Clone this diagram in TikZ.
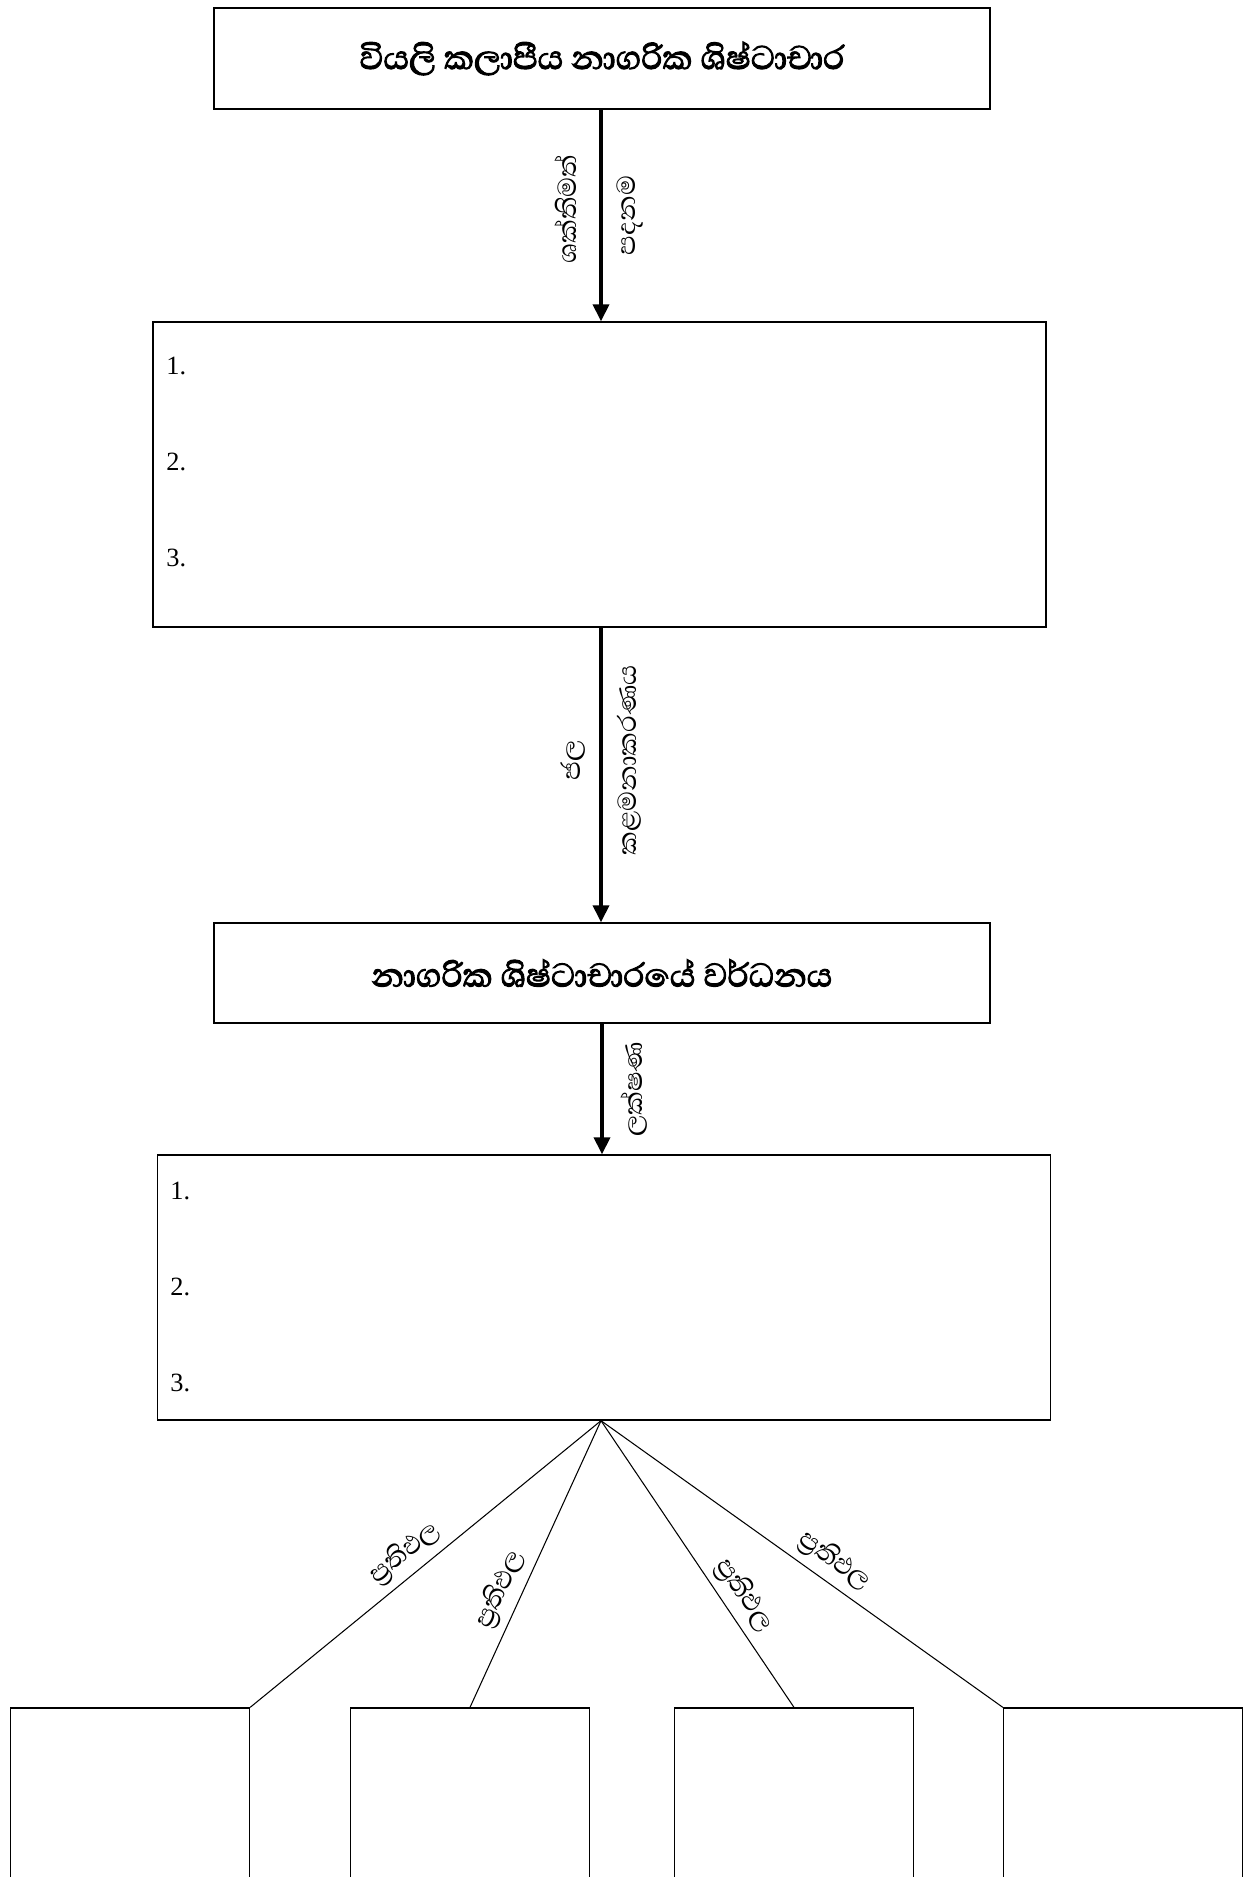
\documentclass[tikz,border=0pt]{standalone}
\usepackage{fontspec}
\setmainfont{Liberation Serif}
\newfontfamily\sinhala[Script=Sinhala, AutoFakeBold=2.5]{Abhaya Libre}
\usetikzlibrary{arrows.meta,positioning}

\begin{document}
\begin{tikzpicture}[x=0.02cm, y=-0.02cm,
    box/.style={draw, line width=0.8pt, rectangle, inner sep=0pt},
    titlebox/.style={box, minimum width=15.52cm, minimum height=2.02cm,
      font=\sinhala\bfseries\fontsize{24}{28}\selectfont},
    listbox/.style={box, minimum width=17.86cm},
    resbox/.style={box, minimum width=4.78cm, minimum height=8cm},
    flow/.style={line width=2pt, -{Triangle[length=3.4mm,width=3.2mm]}},
    branch/.style={line width=0.6pt},
    lbl/.style={font=\sinhala\fontsize{19}{22}\selectfont, inner sep=4pt},
    num/.style={anchor=west, font=\fontsize{15}{17}\selectfont, inner sep=0pt}]
  \useasboundingbox (0,0) rectangle (1246,1877);
  \clip (0,0) rectangle (1246,1877);

  \node[titlebox] (civ) at (602,58.5) {වියලි කලාපීය නාගරික ශිෂ්ටාචාර};
  \node[listbox, minimum height=6.1cm] (list1) at (599.5,474.5) {};
  \node[titlebox, minimum height=2.0cm] (grow) at (602,973) {නාගරික ශිෂ්ටාචාරයේ වර්ධනය};
  \node[listbox, minimum height=5.3cm] (list2) at (604,1287.5) {};

  \node[num] (a1) at (166,366) {1.};
  \node[num] (a2) at (166,462) {2.};
  \node[num] (a3) at (166,558) {3.};
  \node[num] (b1) at (170,1191) {1.};
  \node[num] (b2) at (170,1287) {2.};
  \node[num] (b3) at (170,1383) {3.};

  \node[resbox] (res1) at (130,1908) {};
  \node[resbox] (res2) at (470,1908) {};
  \node[resbox] (res3) at (794,1908) {};
  \node[resbox] (res4) at (1123,1908) {};

  \draw[flow] (civ.south -| 601,0) --
    node[lbl,pos=0.47,rotate=90,above,inner sep=13pt] {ශක්තිමත්}
    node[lbl,midway,rotate=90,below,inner sep=8pt] {පදනම} (list1.north -| 601,0);
  \draw[flow] (list1.south -| 601,0) --
    node[lbl,pos=0.45,rotate=90,above,inner sep=8pt] {ජල}
    node[lbl,pos=0.45,rotate=90,below,inner sep=8pt] {කළමනාකරණය} (grow.north -| 601,0);
  \draw[flow] (grow.south -| 602,0) --
    node[lbl,midway,rotate=90,below,inner sep=10pt] {ලක්ෂණ} (list2.north -| 602,0);

  \coordinate (fan) at (list2.south -| 601,0);
  \draw[branch] (fan) -- node[lbl,pos=0.52,sloped,above] {ප්‍රතිඵල} (res1.north east);
  \draw[branch] (fan) -- node[lbl,pos=0.62,sloped,above] {ප්‍රතිඵල} (res2.north);
  \draw[branch] (fan) -- node[lbl,pos=0.65,sloped,above] {ප්‍රතිඵල} (res3.north);
  \draw[branch] (fan) -- node[lbl,pos=0.55,sloped,above] {ප්‍රතිඵල} (res4.north west);
\end{tikzpicture}
\end{document}
